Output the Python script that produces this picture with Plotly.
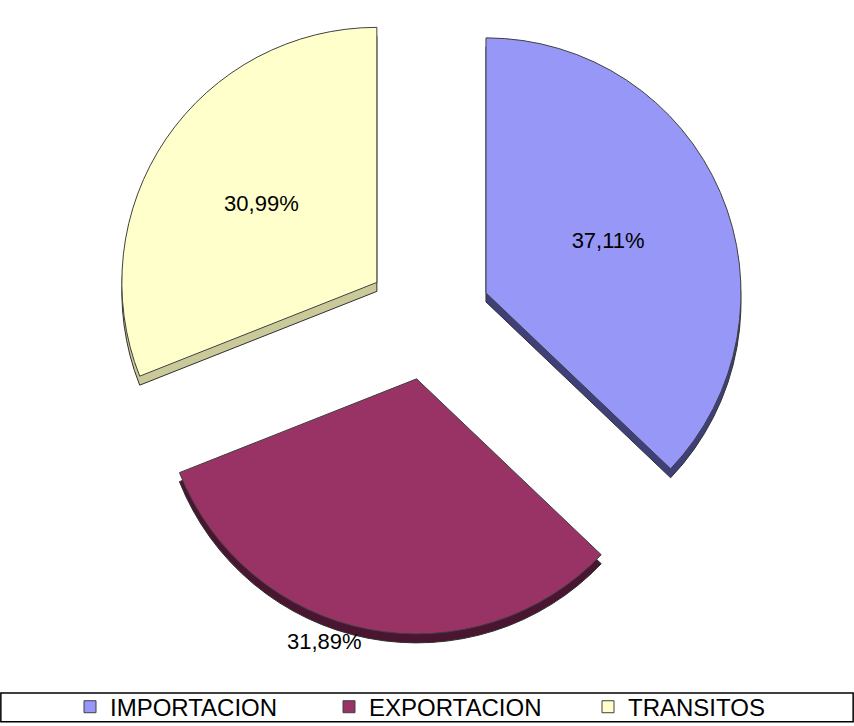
import plotly.graph_objects as go

categories = ["IMPORTACION", "EXPORTACION", "TRANSITOS"]
values = [37.11, 31.89, 30.99]
labels_text = ["37,11%", "31,89%", "30,99%"]
colors = ["#9797F7", "#993366", "#FFFFCC"]
side_colors = ["#3F3F7A", "#4A1530", "#C9C99A"]
text_positions = ["inside", "outside", "inside"]
pulls = [0.245, 0.245, 0.245]

dom_x = [0.130, 0.8736]
dom_y = [0.1253, 1.0]
depth = 9 / 726.0

fig = go.Figure()
# side (3D thickness) layer
fig.add_trace(go.Pie(
    labels=categories,
    values=values,
    textinfo="none",
    sort=False,
    direction="clockwise",
    rotation=0,
    pull=pulls,
    marker=dict(colors=side_colors, line=dict(color="#303030", width=1)),
    domain=dict(x=dom_x, y=[dom_y[0] - depth, dom_y[1] - depth]),
    hoverinfo="skip",
    showlegend=False,
))
fig.add_trace(go.Pie(
    labels=categories,
    values=values,
    text=labels_text,
    textinfo="text",
    textposition=text_positions,
    insidetextorientation="horizontal",
    sort=False,
    direction="clockwise",
    rotation=0,
    pull=pulls,
    marker=dict(colors=colors, line=dict(color="#404040", width=1)),
    textfont=dict(family="Liberation Sans, Arial", size=22, color="black"),
    domain=dict(x=dom_x, y=dom_y),
    hoverinfo="skip",
))

fig.update_layout(
    width=854, height=726,
    margin=dict(l=0, r=0, t=0, b=0, autoexpand=False),
    paper_bgcolor="white",
    plot_bgcolor="white",
    font=dict(family="Liberation Sans, Arial", size=22, color="black"),
    legend=dict(
        orientation="h",
        x=70 / 854, xanchor="left",
        y=0.026, yanchor="middle",
        entrywidth=214,
        bgcolor="rgba(0,0,0,0)",
        font=dict(size=24),
        itemclick=False,
    ),
    shapes=[dict(type="rect", xref="paper", yref="paper",
                 x0=0.001, x1=0.999, y0=0.006, y1=0.0455,
                 line=dict(color="black", width=1.5))],
)

fig.write_html("out.html")
